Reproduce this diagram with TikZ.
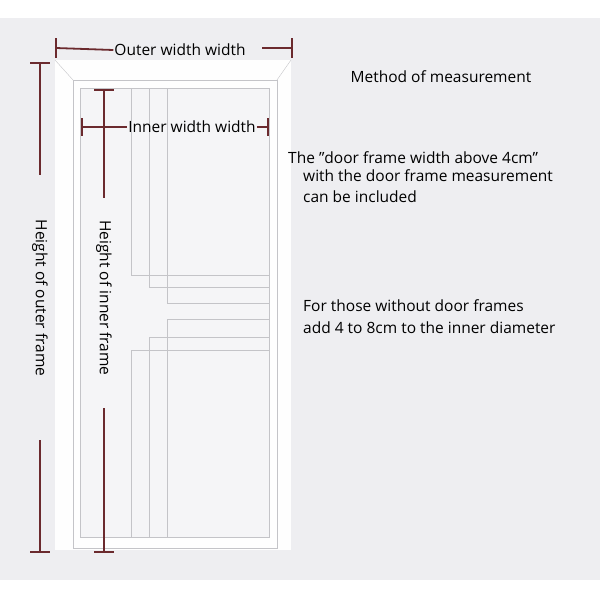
\documentclass[tikz,border=0pt]{standalone}
\usepackage{fontspec}
\setmainfont{Open Sans}
\usetikzlibrary{positioning}
\definecolor{dimred}{HTML}{6B2A2E}
\definecolor{bggray}{HTML}{EEEEF1}
\definecolor{edge}{HTML}{C4C4C8}
\tikzstyle{cote} = [-,dimred,line width=1.8pt]
\tikzstyle{groove} = [-,edge,line width=1pt]
\tikzstyle{texte} = [font=\fontsize{15.5}{17}\selectfont,inner sep=1pt]
\begin{document}
\begin{tikzpicture}[x=1pt,y=-1pt]

	\useasboundingbox (0,0) rectangle (600,600);
	\fill[white] (0,0) rectangle (600,600);
	\fill[bggray] (0,18) rectangle (600,580);

	%% Cadre de porte
	\fill[white!97!bggray] (55,60) rectangle (291,550);
	\draw[edge] (55,60) -- (73,80) (291,60) -- (277,80);
	\draw[edge,fill=white!95!bggray] (73,80) rectangle (277,548);
	\draw[edge,fill=bggray!60!white] (80,88) rectangle (269,537);

	%% Rainures
	\draw[groove] (131,88) |- (269,275);
	\draw[groove] (149,88) |- (269,287);
	\draw[groove] (167,88) |- (269,303);
	\draw[groove] (167,537) |- (269,319);
	\draw[groove] (149,537) |- (269,337);
	\draw[groove] (131,537) |- (269,350);

	%% Textes
	\node[texte] (OW) at (180,50) {Outer width width};
	\node[texte] (IW) at (192,127) {Inner width width};
	\node[texte,rotate=-90] (OH) at (40,298) {Height of outer frame};
	\node[texte,rotate=-90] (IH) at (104,298) {Height of inner frame};

	\node[texte] (Meth) at (441,77) {Method of measurement};
	\node[texte,anchor=west] (L1) at (287,158) {The {\char"22}door frame width above 4cm{\char"22}};
	\node[texte,anchor=west] (L2) at (302,176) {with the door frame measurement};
	\node[texte,anchor=west] (L3) at (302,197) {can be included};
	\node[texte,anchor=west] (L4) at (302,306) {For those without door frames};
	\node[texte,anchor=west] (L5) at (302,328) {add 4 to 8cm to the inner diameter};

	%% Cotes
	\coordinate (owl) at (56,48);
	\coordinate (owr) at (292,48);
	\draw[cote] (owl) -- (OW.west);
	\draw[cote] (owr) -- (262,48);
	\draw[cote] (56,38) -- (56,58) (292,38) -- (292,58);

	\coordinate (iwl) at (82,127);
	\coordinate (iwr) at (268,127);
	\draw[cote] (iwl) -- (IW.west) (IW.east) -- (iwr);
	\draw[cote] (82,118) -- (82,136) (268,118) -- (268,136);

	\coordinate (oht) at (40,63);
	\coordinate (ohb) at (40,552);
	\draw[cote] (oht) -- (40,175) (40,440) -- (ohb);
	\draw[cote] (30,63) -- (50,63) (30,552) -- (50,552);

	\coordinate (iht) at (104,90);
	\coordinate (ihb) at (104,552);
	\draw[cote] (iht) -- (104,198) (104,408) -- (ihb);
	\draw[cote] (94,90) -- (114,90) (94,552) -- (114,552);

\end{tikzpicture}
\end{document}
